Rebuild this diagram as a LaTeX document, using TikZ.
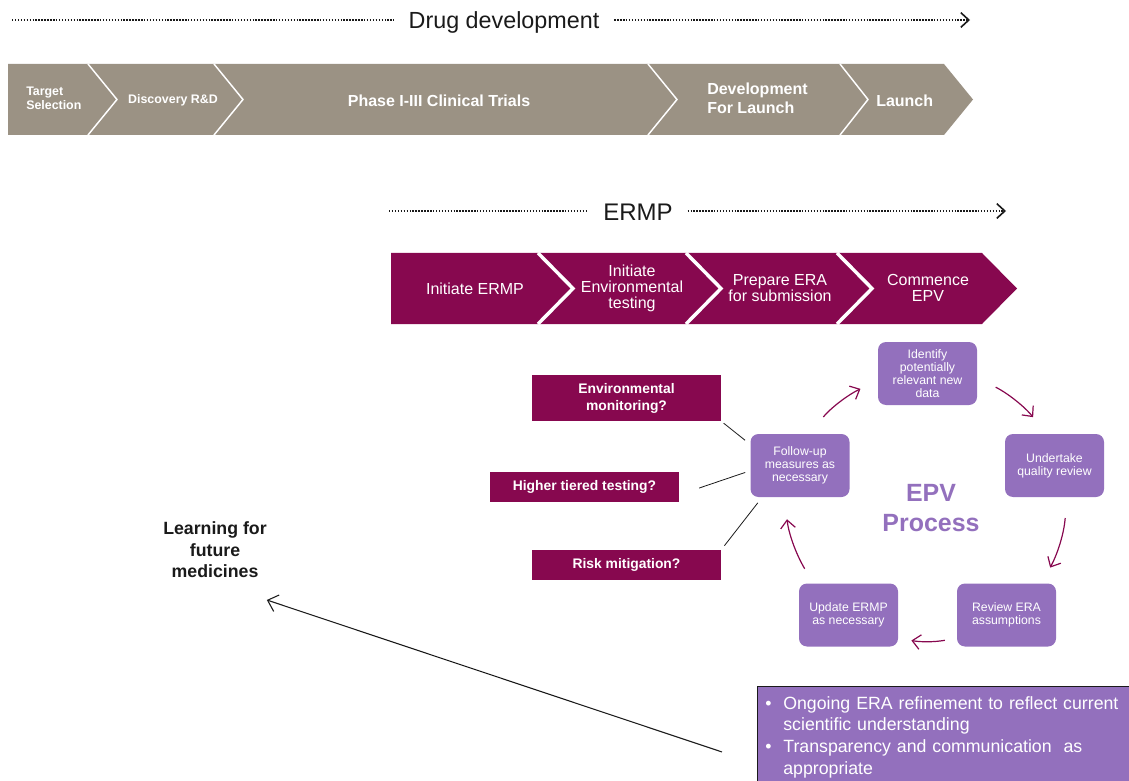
\documentclass[tikz,border=0pt]{standalone}
\usepackage{fontspec}
\setmainfont{Liberation Sans}
\usepackage{xcolor}
\definecolor{stone}{HTML}{9B9284}
\definecolor{berry}{HTML}{87084F}
\definecolor{lilac}{HTML}{9370BD}
\definecolor{ink}{HTML}{1A1A1A}
\usetikzlibrary{arrows.meta}

\begin{document}
\begin{tikzpicture}[
  x=0.75pt,y=-0.75pt,
  heading/.style={font=\fontsize{17.5}{20}\selectfont,text=ink,inner xsep=11pt,inner ysep=2pt},
  dotline/.style={ink,line width=1.6pt,dash pattern=on 1.1pt off 1.1pt},
  stage/.style={text=white,font=\bfseries\fontsize{12}{14.25}\selectfont,align=left,inner sep=0pt},
  smallstage/.style={stage,font=\bfseries\fontsize{9.3}{10.5}\selectfont},
  ermpstep/.style={text=white,font=\fontsize{12}{12}\selectfont,align=center,inner sep=0pt},
  query/.style={fill=berry,text=white,font=\bfseries\fontsize{10.4}{12.75}\selectfont,
    align=center,minimum width=141.75pt,inner sep=0pt},
  epvbox/.style={fill=lilac,rounded corners=6pt,text=white,font=\fontsize{9.2}{9.8}\selectfont,
    align=center,minimum width=74.25pt,minimum height=47.25pt,inner sep=0pt},
  cyc/.style={-{Straight Barb[length=6pt,width=11pt]},berry,line width=0.9pt},
  tie/.style={ink,line width=0.6pt}
]
\useasboundingbox (0,0) rectangle (1129,781);

% drug development bar
\node[heading] (drugdev) at (504,22) {Drug development};
\coordinate (dd-start) at (12,20);
\coordinate (dd-end) at (970,20);
\draw[dotline] (dd-start) -- (drugdev.west |- dd-start);
\draw[dotline,-{Straight Barb[length=6pt,width=11pt,line width=1.2pt]}] (drugdev.east |- dd-end) -- (dd-end);

\fill[stone] (8,64) -- (944,64) -- (973,99.5) -- (944,135) -- (8,135) -- cycle;
\draw[white,line width=1.1pt] (88,64) -- (117,99.5) -- (88,135);
\draw[white,line width=1.1pt] (214,64) -- (243,99.5) -- (214,135);
\draw[white,line width=1.1pt] (648,64) -- (677,99.5) -- (648,135);
\draw[white,line width=1.1pt] (840,64) -- (868,99.5) -- (840,135);

\node[smallstage,anchor=west] (target) at (26,98) {Target\\Selection};
\node[smallstage] (discovery) at (173,100) {Discovery R\&D};
\node[stage] (trials) at (439,101) {Phase I-III Clinical Trials};
\node[stage,anchor=west] (devlaunch) at (707,98) {Development\\For Launch};
\node[stage,anchor=west] (launch) at (876,101) {Launch};

% ERMP bar
\node[heading,font=\fontsize{18}{20}\selectfont] (ermp) at (638,212) {ERMP};
\coordinate (em-start) at (389,211);
\coordinate (em-end) at (1006,211);
\draw[dotline] (em-start) -- (ermp.west |- em-start);
\draw[dotline,-{Straight Barb[length=6pt,width=11pt,line width=1.2pt]}] (ermp.east |- em-end) -- (em-end);

\fill[berry] (391,253) -- (982,253) -- (1017,288.5) -- (982,324) -- (391,324) -- cycle;
\draw[white,line width=2.6pt] (538,253) -- (573,288.5) -- (538,324);
\draw[white,line width=2.6pt] (686,253) -- (721,288.5) -- (686,324);
\draw[white,line width=2.6pt] (837,253) -- (872,288.5) -- (837,324);

\node[ermpstep] (initermp) at (475,289) {Initiate ERMP};
\node[ermpstep] (envtest) at (632,288) {Initiate\\Environmental\\testing};
\node[ermpstep] (prepera) at (780,288) {Prepare ERA\\for submission};
\node[ermpstep] (commence) at (928,288) {Commence\\EPV};

% EPV cycle
\node[epvbox] (identify) at (927.5,373.5) {Identify\\potentially\\relevant new\\data};
\node[epvbox] (undertake) at (1054.5,465.5) {Undertake\\quality review};
\node[epvbox] (review) at (1006.5,615) {Review ERA\\assumptions};
\node[epvbox] (update) at (848.5,615) {Update ERMP\\as necessary};
\node[epvbox] (follow) at (800,465.5) {Follow-up\\measures as\\necessary};
\node[text=lilac,font=\bfseries\fontsize{18.7}{22.5}\selectfont,align=center] (epvtitle) at (931,508) {EPV\\Process};

\draw[cyc,shorten <=16.5pt,shorten >=14.4pt] (follow.74) to[bend left=12] (identify.188);
\draw[cyc,shorten <=15.5pt,shorten >=16pt] (identify.-5) to[bend left=12] (undertake.104);
\draw[cyc,shorten <=15.6pt,shorten >=13.3pt] (undertake.-69) to[bend left=12] (review.42);
\draw[cyc,shorten <=9pt,shorten >=10pt] (review.-155) to[bend left=10] (update.-25);
\draw[cyc,shorten <=12.6pt,shorten >=16.6pt] (update.138) to[bend left=12] (follow.244);

% follow-up questions
\node[query,minimum height=34.5pt] (envmon) at (626.5,398) {Environmental\\monitoring?};
\node[query,minimum height=22.5pt] (higher) at (584.5,486.5) {Higher tiered testing?};
\node[query,minimum height=22.5pt] (risk) at (626.5,565) {Risk mitigation?};

\draw[tie,shorten <=2.3pt,shorten >=5pt] (envmon.south east) -- (follow.157);
\draw[tie,shorten <=15.75pt,shorten >=4pt] (higher.-5) -- (follow.186);
\draw[tie,shorten <=5.3pt,shorten >=3.8pt] (follow.220) -- (risk.north east);

% learning loop
\node[text=ink,font=\bfseries\fontsize{13.3}{16.1}\selectfont,align=center] (learning) at (215,550) {Learning for\\future\\medicines};
\node[fill=lilac,draw=ink,line width=0.5pt,text=white,font=\fontsize{13.3}{16.3}\selectfont,
  align=left,text width=270pt,inner xsep=6pt,inner ysep=7.5pt,anchor=north west] (bullets) at (757,686)
  {\makebox[13.5pt][l]{\textbullet}Ongoing ERA refinement to reflect current\\
   \hspace*{13.5pt}scientific understanding\\
   \makebox[13.5pt][l]{\textbullet}Transparency and communication\ \ as\\
   \hspace*{13.5pt}appropriate};
\draw[-{Straight Barb[length=7pt,width=13pt]},ink,line width=0.8pt,shorten <=27.7pt,shorten >=41pt] (bullets.188) -- (learning.south);
\end{tikzpicture}
\end{document}
